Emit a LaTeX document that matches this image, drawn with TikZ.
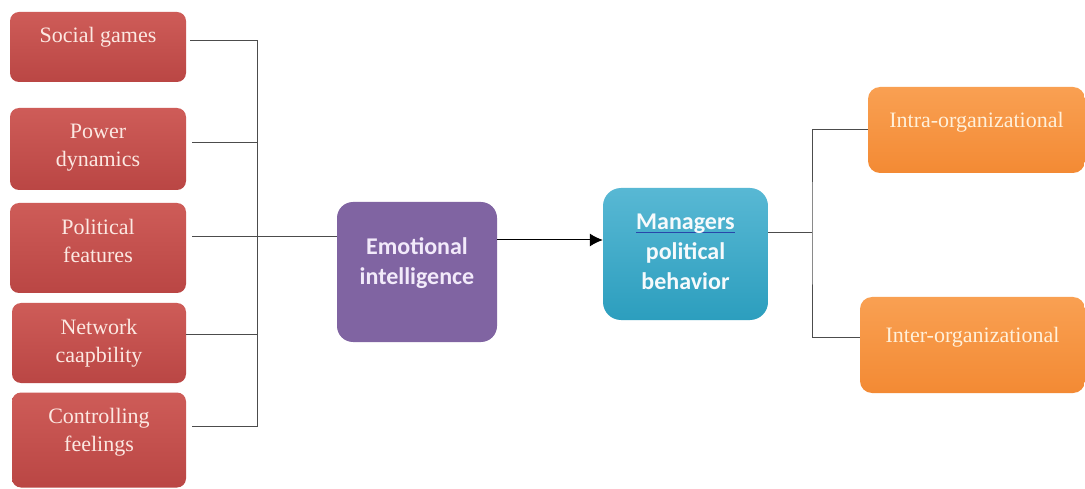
\documentclass[tikz,border=0pt]{standalone}
\usepackage{fontspec}
\setmainfont{Liberation Serif}
\newfontfamily\boxsans{Carlito}
\usetikzlibrary{arrows.meta}

% Box colours
\definecolor{redtop}{RGB}{206,92,88}
\definecolor{redbot}{RGB}{186,70,68}
\definecolor{redink}{RGB}{252,232,226}
\definecolor{eipurple}{RGB}{128,100,162}
\definecolor{eiink}{RGB}{242,234,250}
\definecolor{mgrtop}{RGB}{88,184,212}
\definecolor{mgrbot}{RGB}{44,158,190}
\definecolor{mgrink}{RGB}{246,250,252}
\definecolor{linkblue}{RGB}{40,70,170}
\definecolor{orgtop}{RGB}{249,160,82}
\definecolor{orgbot}{RGB}{243,138,52}
\definecolor{orgink}{RGB}{255,240,218}

% Underlined word with a coloured rule
\newcommand\linkline[1]{\setbox0\hbox{#1}\rlap{\color{linkblue}\rule[-3.5pt]{\wd0}{1.6pt}}\box0}

\begin{document}
\begin{tikzpicture}[x=1pt,y=-1pt,
    wire/.style={draw=black!70,line width=1pt},
    redbox/.style={rounded corners=9pt,top color=redtop,bottom color=redbot},
    redtext/.style={text=redink,align=center,font=\rmfamily\fontsize{22}{28}\selectfont},
    centrebox/.style={rounded corners=16pt,minimum width=160pt},
    centretext/.style={align=center,font=\boxsans\bfseries\fontsize{24}{30}\selectfont},
    orgbox/.style={rounded corners=12pt,top color=orgtop,bottom color=orgbot},
    orgtext/.style={text=orgink,font=\rmfamily\fontsize{22}{28}\selectfont}]

    % Canvas
    \useasboundingbox[fill=white] (0,0) rectangle (1085,489);

    %% Factors on the left

    % Boxes
    \node[redbox,minimum width=176pt,minimum height=70pt] (social) at (98,47) {};
    \node[redbox,minimum width=176pt,minimum height=82pt] (power) at (98,149) {};
    \node[redbox,minimum width=176pt,minimum height=90pt] (political) at (98,248) {};
    \node[redbox,minimum width=174pt,minimum height=80pt] (network) at (99,343) {};
    \node[redbox,minimum width=174pt,minimum height=95pt] (controlling) at (99,440) {};

    % Labels
    \node[redtext] (socialtxt) at (98,37) {Social games};
    \node[redtext] (powertxt) at (98,148) {Power\\dynamics};
    \node[redtext] (politicaltxt) at (98,241) {Political\\features};
    \node[redtext] (networktxt) at (99,343) {Network\\caapbility};
    \node[redtext] (controllingtxt) at (99,432) {Controlling\\feelings};

    %% Centre boxes
    \node[centrebox,minimum height=140pt,fill=eipurple] (ei) at (417,272) {};
    \node[centretext,text=eiink] (eitxt) at (417,263) {Emotional\\intelligence};

    \node[centrebox,rounded corners=18pt,minimum width=165pt,minimum height=132pt,
        top color=mgrtop,bottom color=mgrbot] (mgr) at (685.5,254) {};
    \node[centretext,text=mgrink] (mgrtxt) at (685.5,252)
        {\linkline{Managers}\\political\\behavior};

    %% Kinds of behaviour on the right
    \node[orgbox,minimum width=217pt,minimum height=86pt] (intra) at (976.5,130) {};
    \node[orgtext] (intratxt) at (976.5,122) {Intra-organizational};
    \node[orgbox,minimum width=225pt,minimum height=96pt] (inter) at (972.5,345) {};
    \node[orgtext] (intertxt) at (972.5,337) {Inter-organizational};

    %% Connectors

    % Left bus
    \coordinate (lbus) at (257,237);
    \coordinate (ltop) at (257,41);
    \coordinate (lbot) at (257,426);
    \draw[wire] ([xshift=4pt]social.east |- ltop) -- (ltop) -- (lbot)
        -- ([xshift=6pt]controlling.east |- lbot);
    \draw[wire] ([xshift=6pt]power.east |- 0,143) -- (lbus |- 0,143);
    \draw[wire] ([xshift=6pt]political.east |- lbus) -- (lbus);
    \draw[wire] (network.east |- 0,334) -- (lbus |- 0,334);
    \draw[wire] (lbus) -- (ei.west |- lbus);

    % Arrow
    \draw[wire,-{Latex[length=13pt,width=13pt]},draw=black]
        (ei.east |- 0,240) -- (mgr.west |- 0,240);

    % Right bus
    \coordinate (rbus) at (812,233);
    \draw[wire] (mgr.east |- rbus) -- (rbus);
    \draw[wire] (intra.west) -| (rbus) |- (inter.west |- 0,337);

\end{tikzpicture}
\end{document}
